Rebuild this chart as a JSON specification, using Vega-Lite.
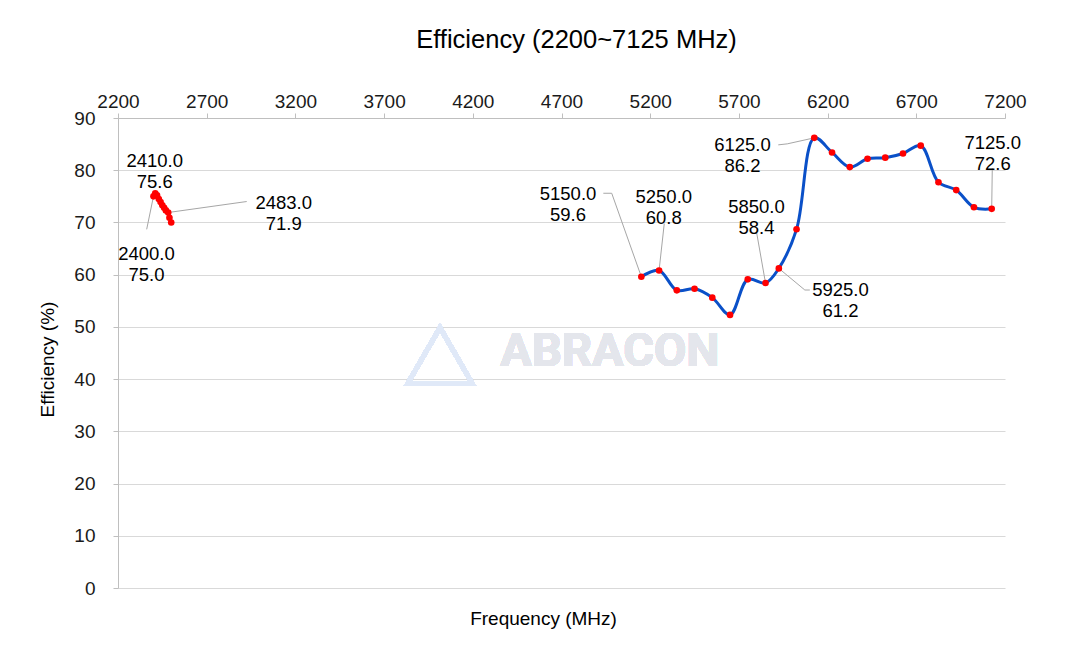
{
  "$schema": "https://vega.github.io/schema/vega-lite/v6.json",
  "width": 887,
  "height": 470,
  "autosize": {"type": "none"},
  "padding": {"left": 118, "top": 118, "right": 65, "bottom": 64},
  "background": "#ffffff",
  "config": {"font": "Liberation Sans", "view": {"stroke": null}},
  "title": {"text": "Efficiency (2200~7125 MHz)", "fontSize": 25.5, "fontWeight": "normal", "color": "#000000", "anchor": "middle", "dx": 15, "offset": 39},
  "data": {"values": [
    {"freq": 2400, "eff": 75.0, "band": "2.4G", "label": "2400.0\n75.0"},
    {"freq": 2410, "eff": 75.6, "band": "2.4G", "label": "2410.0\n75.6"},
    {"freq": 2420, "eff": 75.2, "band": "2.4G"},
    {"freq": 2430, "eff": 74.5, "band": "2.4G"},
    {"freq": 2440, "eff": 73.9, "band": "2.4G"},
    {"freq": 2450, "eff": 73.3, "band": "2.4G"},
    {"freq": 2460, "eff": 72.8, "band": "2.4G"},
    {"freq": 2470, "eff": 72.3, "band": "2.4G"},
    {"freq": 2483, "eff": 71.9, "band": "2.4G", "label": "2483.0\n71.9"},
    {"freq": 2490, "eff": 70.9, "band": "2.4G"},
    {"freq": 2500, "eff": 70.0, "band": "2.4G"},
    {"freq": 5150, "eff": 59.6, "band": "5-7G", "label": "5150.0\n59.6"},
    {"freq": 5250, "eff": 60.8, "band": "5-7G", "label": "5250.0\n60.8"},
    {"freq": 5350, "eff": 57.0, "band": "5-7G"},
    {"freq": 5450, "eff": 57.3, "band": "5-7G"},
    {"freq": 5550, "eff": 55.6, "band": "5-7G"},
    {"freq": 5650, "eff": 52.3, "band": "5-7G"},
    {"freq": 5750, "eff": 59.1, "band": "5-7G"},
    {"freq": 5850, "eff": 58.4, "band": "5-7G", "label": "5850.0\n58.4"},
    {"freq": 5925, "eff": 61.2, "band": "5-7G", "label": "5925.0\n61.2"},
    {"freq": 6025, "eff": 68.7, "band": "5-7G"},
    {"freq": 6125, "eff": 86.2, "band": "5-7G", "label": "6125.0\n86.2"},
    {"freq": 6225, "eff": 83.4, "band": "5-7G"},
    {"freq": 6325, "eff": 80.6, "band": "5-7G"},
    {"freq": 6425, "eff": 82.2, "band": "5-7G"},
    {"freq": 6525, "eff": 82.4, "band": "5-7G"},
    {"freq": 6625, "eff": 83.2, "band": "5-7G"},
    {"freq": 6725, "eff": 84.7, "band": "5-7G"},
    {"freq": 6825, "eff": 77.7, "band": "5-7G"},
    {"freq": 6925, "eff": 76.2, "band": "5-7G"},
    {"freq": 7025, "eff": 72.9, "band": "5-7G"},
    {"freq": 7125, "eff": 72.6, "band": "5-7G", "label": "7125.0\n72.6"}
  ]},
  "encoding": {
    "x": {"field": "freq", "type": "quantitative",
      "scale": {"domain": [2200, 7200], "nice": false, "zero": false},
      "axis": {"orient": "top", "values": [2200, 2700, 3200, 3700, 4200, 4700, 5200, 5700, 6200, 6700, 7200],
        "format": "d", "grid": false, "labelFlush": false, "labelOverlap": false, "labelFontSize": 19, "labelColor": "#1a1a1a", "labelPadding": 2,
        "domainColor": "#bfbfbf", "tickColor": "#bfbfbf", "tickSize": 5,
        "title": "Frequency (MHz)", "titleFontSize": 19, "titleFontWeight": "normal", "titleColor": "#000000",
        "titleX": 425, "titleY": 500, "titleBaseline": "middle", "titleAlign": "center", "titleAngle": 0}},
    "y": {"field": "eff", "type": "quantitative",
      "scale": {"domain": [0, 90], "nice": false},
      "axis": {"values": [0, 10, 20, 30, 40, 50, 60, 70, 80, 90], "grid": true, "gridColor": "#d9d9d9",
        "labelFlush": false, "labelFontSize": 19, "labelColor": "#1a1a1a", "labelPadding": 18,
        "domainColor": "#bfbfbf", "tickColor": "#bfbfbf", "tickSize": 5,
        "title": "Efficiency (%)", "titleFontSize": 19, "titleFontWeight": "normal", "titleColor": "#000000",
        "titleX": -71, "titleY": 241, "titleBaseline": "middle", "titleAlign": "center", "titleAngle": -90}}
  },
  "layer": [
    {"mark": {"type": "text", "text": "ABRACON", "fontSize": 47, "fontWeight": "bold", "font": "Roboto", "color": "#e4e6ec", "align": "center", "baseline": "middle"},
     "encoding": {"x": {"datum": 4973}, "y": {"datum": 45.2}}},
    {"mark": {"type": "point", "shape": "triangle-up", "size": 4200, "filled": false, "stroke": "#e0e9f8", "strokeWidth": 4.5, "opacity": 1},
     "encoding": {"x": {"datum": 4015}, "y": {"datum": 44.5}}},
    {"mark": {"type": "line", "interpolate": "catmull-rom", "color": "#0a50c8", "strokeWidth": 3},
     "encoding": {"detail": {"field": "band"}}},
    {"transform": [{"filter": "datum.freq == 2400"}],
     "mark": {"type": "rule", "color": "#a6a6a6", "strokeWidth": 1, "x2Offset": -6.8, "y2Offset": 33},
     "encoding": {"x2": {"field": "freq"}, "y2": {"field": "eff"}}},
    {"transform": [{"filter": "datum.freq == 2483"}],
     "mark": {"type": "rule", "color": "#a6a6a6", "strokeWidth": 1, "x2Offset": 78.5, "y2Offset": -11},
     "encoding": {"x2": {"field": "freq"}, "y2": {"field": "eff"}}},
    {"transform": [{"filter": "datum.freq == 5150"}],
     "mark": {"type": "rule", "color": "#a6a6a6", "strokeWidth": 1, "x2Offset": -29.6, "y2Offset": -83.5},
     "encoding": {"x2": {"field": "freq"}, "y2": {"field": "eff"}}},
    {"transform": [{"filter": "datum.freq == 5150"}],
     "mark": {"type": "rule", "color": "#a6a6a6", "strokeWidth": 1, "xOffset": -29.6, "yOffset": -83.5, "x2Offset": -38, "y2Offset": -83.5},
     "encoding": {"x2": {"field": "freq"}, "y2": {"field": "eff"}}},
    {"transform": [{"filter": "datum.freq == 5250"}],
     "mark": {"type": "rule", "color": "#a6a6a6", "strokeWidth": 1, "x2Offset": 5.2, "y2Offset": -47},
     "encoding": {"x2": {"field": "freq"}, "y2": {"field": "eff"}}},
    {"transform": [{"filter": "datum.freq == 5850"}],
     "mark": {"type": "rule", "color": "#a6a6a6", "strokeWidth": 1, "x2Offset": -8.8, "y2Offset": -50},
     "encoding": {"x2": {"field": "freq"}, "y2": {"field": "eff"}}},
    {"transform": [{"filter": "datum.freq == 5925"}],
     "mark": {"type": "rule", "color": "#a6a6a6", "strokeWidth": 1, "x2Offset": 26, "y2Offset": 21.6},
     "encoding": {"x2": {"field": "freq"}, "y2": {"field": "eff"}}},
    {"transform": [{"filter": "datum.freq == 5925"}],
     "mark": {"type": "rule", "color": "#a6a6a6", "strokeWidth": 1, "xOffset": 26, "yOffset": 21.6, "x2Offset": 31, "y2Offset": 21.6},
     "encoding": {"x2": {"field": "freq"}, "y2": {"field": "eff"}}},
    {"transform": [{"filter": "datum.freq == 6125"}],
     "mark": {"type": "rule", "color": "#a6a6a6", "strokeWidth": 1, "x2Offset": -27, "y2Offset": 6},
     "encoding": {"x2": {"field": "freq"}, "y2": {"field": "eff"}}},
    {"transform": [{"filter": "datum.freq == 6125"}],
     "mark": {"type": "rule", "color": "#a6a6a6", "strokeWidth": 1, "xOffset": -27, "yOffset": 6, "x2Offset": -36, "y2Offset": 7},
     "encoding": {"x2": {"field": "freq"}, "y2": {"field": "eff"}}},
    {"transform": [{"filter": "datum.freq == 7125"}],
     "mark": {"type": "rule", "color": "#a6a6a6", "strokeWidth": 1, "x2Offset": 0.6, "y2Offset": -40.6},
     "encoding": {"x2": {"field": "freq"}, "y2": {"field": "eff"}}},
    {"mark": {"type": "circle", "color": "#ff0000", "size": 44, "opacity": 1}},
    {"transform": [{"filter": "datum.freq == 2400"}],
     "mark": {"type": "text", "dx": -7, "dy": 58, "fontSize": 18.5, "lineHeight": 21, "lineBreak": "\n", "align": "center", "baseline": "middle", "color": "#000000"},
     "encoding": {"text": {"field": "label"}}},
    {"transform": [{"filter": "datum.freq == 2410"}],
     "mark": {"type": "text", "dx": -0.5, "dy": -32, "fontSize": 18.5, "lineHeight": 21, "lineBreak": "\n", "align": "center", "baseline": "middle", "color": "#000000"},
     "encoding": {"text": {"field": "label"}}},
    {"transform": [{"filter": "datum.freq == 2483"}],
     "mark": {"type": "text", "dx": 115.5, "dy": -9.5, "fontSize": 18.5, "lineHeight": 21, "lineBreak": "\n", "align": "center", "baseline": "middle", "color": "#000000"},
     "encoding": {"text": {"field": "label"}}},
    {"transform": [{"filter": "datum.freq == 5150"}],
     "mark": {"type": "text", "dx": -73.3, "dy": -82.3, "fontSize": 18.5, "lineHeight": 21, "lineBreak": "\n", "align": "center", "baseline": "middle", "color": "#000000"},
     "encoding": {"text": {"field": "label"}}},
    {"transform": [{"filter": "datum.freq == 5250"}],
     "mark": {"type": "text", "dx": 4.7, "dy": -73, "fontSize": 18.5, "lineHeight": 21, "lineBreak": "\n", "align": "center", "baseline": "middle", "color": "#000000"},
     "encoding": {"text": {"field": "label"}}},
    {"transform": [{"filter": "datum.freq == 5850"}],
     "mark": {"type": "text", "dx": -9, "dy": -75.7, "fontSize": 18.5, "lineHeight": 21, "lineBreak": "\n", "align": "center", "baseline": "middle", "color": "#000000"},
     "encoding": {"text": {"field": "label"}}},
    {"transform": [{"filter": "datum.freq == 5925"}],
     "mark": {"type": "text", "dx": 61.7, "dy": 21.6, "fontSize": 18.5, "lineHeight": 21, "lineBreak": "\n", "align": "center", "baseline": "middle", "color": "#000000"},
     "encoding": {"text": {"field": "label"}}},
    {"transform": [{"filter": "datum.freq == 6125"}],
     "mark": {"type": "text", "dx": -71.8, "dy": 7.1, "fontSize": 18.5, "lineHeight": 21, "lineBreak": "\n", "align": "center", "baseline": "middle", "color": "#000000"},
     "encoding": {"text": {"field": "label"}}},
    {"transform": [{"filter": "datum.freq == 7125"}],
     "mark": {"type": "text", "dx": 1, "dy": -65.6, "fontSize": 18.5, "lineHeight": 21, "lineBreak": "\n", "align": "center", "baseline": "middle", "color": "#000000"},
     "encoding": {"text": {"field": "label"}}}
  ]
}
